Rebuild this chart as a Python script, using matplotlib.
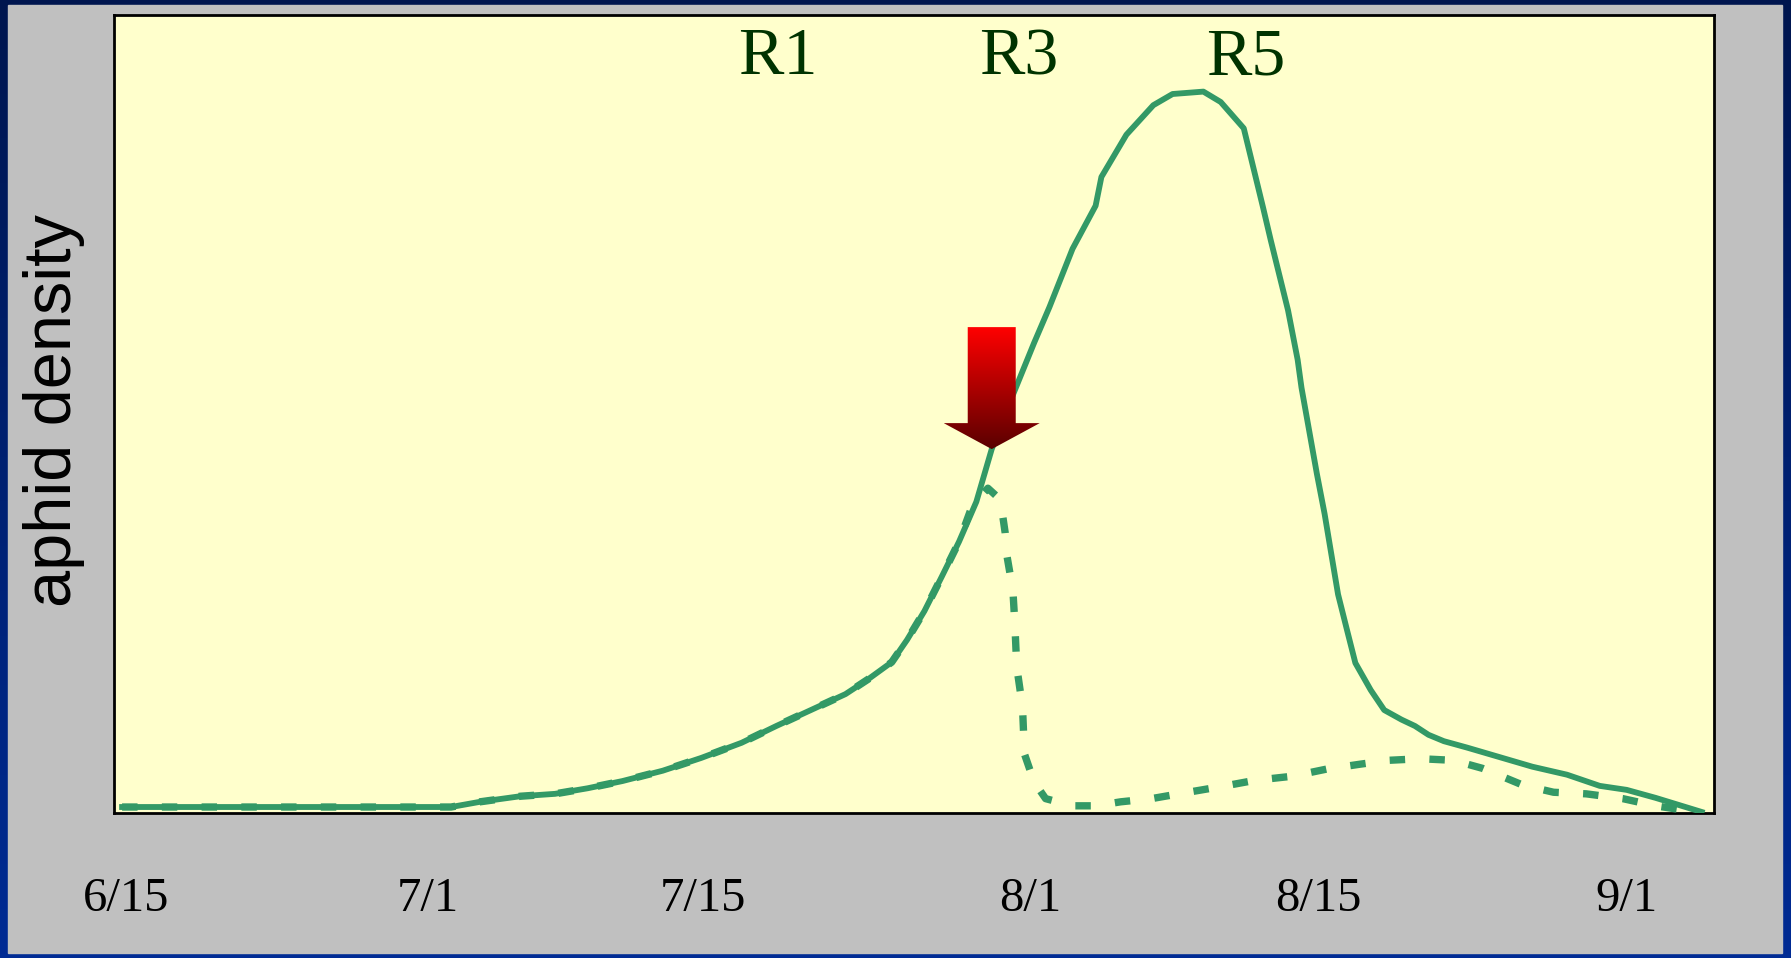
import numpy as np
import matplotlib.pyplot as plt
from matplotlib.patches import Rectangle, Polygon
from matplotlib.colors import LinearSegmentedColormap

# x = days after 6/15, y = relative aphid density (0-100 of plot height)
untreated_day = [-0.2, 16.9, 18.4, 20.5, 22.3, 24.0, 25.8, 27.9, 29.9, 32.0, 33.8,
                 35.6, 37.4, 38.6, 39.8, 40.6, 41.5, 42.4, 43.3, 44.2, 45.0, 46.0,
                 47.2, 48.0, 49.2, 50.4, 50.7, 52.0, 53.4, 54.4, 56.0, 56.9, 58.1,
                 59.1, 59.5, 60.4, 60.9, 61.1, 61.9, 62.3, 63.0, 63.5, 63.9, 64.7,
                 65.4, 66.3, 67.0, 67.7, 68.5, 69.7, 71.4, 73.1, 74.9, 76.6, 78.0,
                 79.5, 81.9]
untreated = [0.75, 0.75, 1.4, 2.1, 2.4, 3.1, 4.0, 5.3, 6.9, 8.8, 10.9,
             12.9, 14.9, 16.8, 18.9, 21.7, 25.3, 29.6, 34.0, 39.0, 45.6, 51.8,
             58.9, 63.4, 70.7, 76.1, 79.7, 85.0, 88.7, 90.1, 90.4, 89.1, 85.8,
             75.9, 71.8, 63.0, 56.8, 53.3, 42.5, 37.5, 27.4, 22.6, 18.8, 15.4,
             12.9, 11.7, 10.9, 9.8, 9.0, 8.2, 7.0, 5.8, 4.8, 3.4, 2.9,
             1.9, 0.13]

sprayed_day = [-0.2, 16.9, 18.4, 20.5, 22.3, 24.0, 25.8, 27.9, 29.9, 32.0, 33.8,
               35.6, 37.4, 38.6, 39.8, 40.6, 41.5, 42.4, 43.3, 44.0, 44.8, 45.3,
               45.5, 45.7, 45.8, 46.1, 46.2, 46.3, 46.6, 46.7, 47.2, 47.8, 49.2,
               50.4, 51.7, 53.3, 55.2, 56.9, 58.7, 60.6, 62.4, 64.1, 65.6, 67.3,
               69.0, 70.5, 72.1, 72.6, 74.2, 75.9, 77.8, 79.5, 81.6]
sprayed = [0.75, 0.75, 1.4, 2.1, 2.4, 3.1, 4.0, 5.3, 6.9, 8.8, 10.9,
           12.9, 14.9, 16.8, 18.9, 21.7, 25.3, 29.6, 34.0, 38.6, 40.7, 39.6,
           38.4, 35.1, 32.1, 27.9, 23.8, 18.3, 13.3, 7.4, 3.9, 1.8, 0.9,
           0.9, 1.4, 1.8, 2.6, 3.3, 4.1, 4.6, 5.5, 6.1, 6.6, 6.8,
           6.6, 5.6, 4.0, 3.5, 2.6, 2.4, 1.8, 0.9, 0.13]

date_labels = ['6/15', '7/1', '7/15', '8/1', '8/15', '9/1']
date_days = [0, 15.7, 30, 47, 62, 78]

stage_labels = ['R1', 'R3', 'R5']
stage_days = [33.9, 46.4, 58.2]

spray_day = 45.0

W, H = 1791, 958
green = '#339966'

fig = plt.figure(figsize=(W / 100, H / 100), dpi=100)

# navy frame + grey slide area
bg = fig.add_axes([0, 0, 1, 1])
bg.axis('off')
navy = LinearSegmentedColormap.from_list('navy', ['#00164f', '#002b94'])
bg.imshow(np.linspace(0, 1, 256).reshape(-1, 1), cmap=navy, aspect='auto',
          extent=[0, 1, 0, 1], origin='upper')
bg.add_patch(Rectangle((8 / W, 5 / H), (W - 17) / W, (H - 10) / H,
                       color='#c0c0c0', zorder=2))
bg.set_xlim(0, 1)
bg.set_ylim(0, 1)

ax = fig.add_axes([114 / W, (H - 813) / H, 1600 / W, 798 / H])
ax.set_facecolor('#ffffcc')
for s in ax.spines.values():
    s.set_linewidth(2)
    s.set_color('black')

ax.plot(untreated_day, untreated, color=green, lw=4.2, zorder=3)
ax.plot(sprayed_day, sprayed, color=green, lw=5.3,
        linestyle=(0, (2.1, 3.3)), dash_capstyle='butt', zorder=4)

xlim = (-0.62, 82.54)
ylim = (0, 100)
ax.set_xlim(*xlim)
ax.set_ylim(*ylim)

ax.set_xticks(date_days)
ax.set_xticklabels(date_labels, fontfamily='Liberation Serif', fontsize=35)
ax.tick_params(axis='x', length=0, pad=46)
ax.set_yticks([])

for lab, d in zip(stage_labels, stage_days):
    ax.text(d, 0.926, lab, transform=ax.get_xaxis_transform(), ha='center',
            va='baseline', fontfamily='Liberation Serif', fontsize=49,
            color='#003300')

ax.text(-0.018, 0.505, 'aphid density', transform=ax.transAxes, rotation=90,
        ha='right', va='center', fontfamily='Liberation Sans', fontsize=48)

# spray arrow pointing at the untreated curve
tip_y = np.interp(spray_day, untreated_day, untreated)
tip = ax.transData.transform((spray_day, tip_y))
offs = np.array([(-24, 122), (24, 122), (24, 26), (48, 26), (0, 0),
                 (-48, 26), (-24, 26)])
verts = ax.transData.inverted().transform(tip + offs)
arrow = Polygon(verts, closed=True, facecolor='none', edgecolor='none',
                transform=ax.transData)
ax.add_patch(arrow)
reds = LinearSegmentedColormap.from_list('reds', ['#ff0000', '#5a0000'])
img = ax.imshow(np.linspace(0, 1, 256).reshape(-1, 1), cmap=reds,
                aspect='auto', origin='upper', zorder=5,
                extent=[verts[:, 0].min(), verts[:, 0].max(),
                        verts[:, 1].min(), verts[:, 1].max()])
img.set_clip_path(arrow)
ax.set_xlim(*xlim)
ax.set_ylim(*ylim)

fig.savefig('out.png', dpi=100)
